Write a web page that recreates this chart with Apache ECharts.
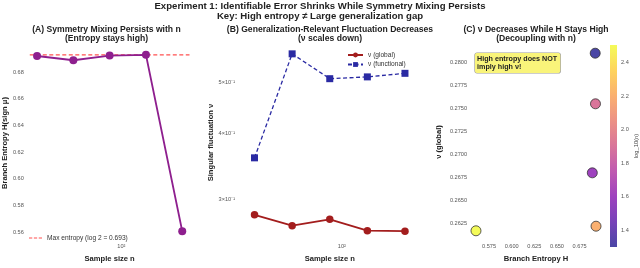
<!DOCTYPE html>
<html><head><meta charset="utf-8">
<script src="https://cdn.jsdelivr.net/npm/echarts@6/dist/echarts.min.js"></script>
<style>html,body{margin:0;padding:0;background:#fff}#c{width:640px;height:268px}</style>
</head><body><div id="c"></div>
<script>
// ---- data ----
const sampleSizes = [20, 40, 80, 160, 320];
const branchEntropy = [0.6922, 0.6890, 0.6925, 0.6931, 0.5606];
const maxEntropy = 0.6931;
const nuGlobal = [0.2810, 0.2680, 0.2755, 0.2622, 0.2617];
const nuFunctional = [0.360, 0.566, 0.508, 0.512, 0.520];
const logN = [1.301, 1.602, 1.903, 2.204, 2.505];
const entropyTicks = [0.56, 0.58, 0.60, 0.62, 0.64, 0.66, 0.68];
const nuTicks = [0.3, 0.4, 0.5];
const nuTickLabels = ['3×10⁻¹', '4×10⁻¹', '5×10⁻¹'];
const hTicks = [0.575, 0.600, 0.625, 0.650, 0.675];
const vTicks = [0.2625, 0.2650, 0.2675, 0.2700, 0.2725, 0.2750, 0.2775, 0.2800];
const cbTicks = [1.4, 1.6, 1.8, 2.0, 2.2, 2.4];
const cbRange = [1.301, 2.505];
const nRange = [17.41, 367.6];
const hRange = [0.5540, 0.6997];
const nuRange = [0.2518, 0.5882];
const vRange = [0.2607, 0.2820];

// ---- styling ----
const FONT = "'Liberation Sans', Arial, sans-serif";
const plasma = ['#0d0887','#4903a0','#7e03a8','#a92395','#cc4778','#e66c5c','#f89540','#fdc527','#f0f921'];
function blend(hex, a) {
  const r = parseInt(hex.slice(1,3),16), g = parseInt(hex.slice(3,5),16), b = parseInt(hex.slice(5,7),16);
  const f = v => Math.round(v * a + 255 * (1 - a));
  return 'rgb(' + f(r) + ',' + f(g) + ',' + f(b) + ')';
}
const plasmaA = plasma.map(c => blend(c, 0.75));

const tickLbl = {fontSize: 5.6, color: '#555', fontFamily: FONT};
const nameStyle = {fontSize: 7.6, fontWeight: 'bold', color: '#222', fontFamily: FONT};
const hidden = {axisLine: {show: false}, axisTick: {show: false}, splitLine: {show: false}};
const dashIcon = 'path://M0,0H4V1.4H0Z M6,0H10V1.4H6Z M12,0H16V1.4H12Z';

const chart = echarts.init(document.getElementById('c'), null, {renderer: 'canvas'});

const zip = (a, b) => a.map((v, i) => [v, b[i]]);

const option = {
  animation: false,
  backgroundColor: '#fff',
  textStyle: {fontFamily: FONT},
  grid: [
    {left: 23.5, width: 166, top: 46, height: 201.5},
    {left: 247, width: 165.5, top: 45, height: 202.5},
    {left: 470, width: 132, top: 44, height: 204},
    {left: 610, width: 11, top: 45, height: 202}
  ],
  xAxis: [
    Object.assign({type: 'log', gridIndex: 0, min: nRange[0], max: nRange[1],
      name: 'Sample size n', nameLocation: 'middle', nameGap: 15, nameTextStyle: nameStyle,
      axisLabel: Object.assign({margin: 3, showMinLabel: false, showMaxLabel: false,
        formatter: v => Math.abs(v - 100) < 1e-6 ? '10²' : ''}, tickLbl)}, hidden),
    Object.assign({type: 'log', gridIndex: 1, min: nRange[0], max: nRange[1],
      name: 'Sample size n', nameLocation: 'middle', nameGap: 15, nameTextStyle: nameStyle,
      axisLabel: Object.assign({margin: 3, showMinLabel: false, showMaxLabel: false,
        formatter: v => Math.abs(v - 100) < 1e-6 ? '10²' : ''}, tickLbl)}, hidden),
    Object.assign({type: 'value', gridIndex: 2, min: hRange[0], max: hRange[1],
      name: 'Branch Entropy H', nameLocation: 'middle', nameGap: 15, nameTextStyle: nameStyle,
      axisLabel: Object.assign({margin: 3, customValues: hTicks, formatter: v => v.toFixed(3)}, tickLbl)}, hidden),
    Object.assign({type: 'category', gridIndex: 3, data: ['cb'], axisLabel: {show: false}}, hidden)
  ],
  yAxis: [
    Object.assign({type: 'value', gridIndex: 0, min: hRange[0], max: hRange[1],
      name: 'Branch Entropy H(sign μ)', nameLocation: 'middle', nameGap: 17, nameRotate: 90, nameTextStyle: nameStyle,
      axisLabel: Object.assign({margin: 6, customValues: entropyTicks, formatter: v => v.toFixed(2)}, tickLbl)}, hidden),
    Object.assign({type: 'log', gridIndex: 1, min: nuRange[0], max: nuRange[1],
      name: 'Singular fluctuation ν', nameLocation: 'middle', nameGap: 32, nameRotate: 90, nameTextStyle: nameStyle,
      axisLabel: Object.assign({margin: 12, customValues: nuTicks,
        formatter: v => { const i = nuTicks.findIndex(t => Math.abs(t - v) < 1e-6); return i >= 0 ? nuTickLabels[i] : ''; }}, tickLbl)}, hidden),
    Object.assign({type: 'value', gridIndex: 2, min: vRange[0], max: vRange[1],
      name: 'ν (global)', nameLocation: 'middle', nameGap: 27, nameRotate: 90, nameTextStyle: nameStyle,
      axisLabel: Object.assign({margin: 3, customValues: vTicks, formatter: v => v.toFixed(4)}, tickLbl)}, hidden),
    Object.assign({type: 'value', gridIndex: 3, position: 'right', min: cbRange[0], max: cbRange[1],
      name: 'log_10(n)', nameLocation: 'middle', nameGap: 16, nameRotate: 90,
      nameTextStyle: {fontSize: 5.8, color: '#444', fontFamily: FONT},
      axisLabel: Object.assign({margin: 4, customValues: cbTicks, formatter: v => v.toFixed(1)}, tickLbl)}, hidden)
  ],
  visualMap: [{
    show: false, type: 'continuous', seriesIndex: 5, dimension: 2,
    min: cbRange[0], max: cbRange[1], inRange: {color: plasmaA}
  }],
  legend: [
    {data: [{name: 'Max entropy (log 2 = 0.693)', icon: dashIcon}], left: 29, top: 234.5, padding: 0,
      itemWidth: 13, itemHeight: 1.4, textStyle: {fontSize: 6.6, color: '#333', fontFamily: FONT}},
    {data: ['ν (global)', 'ν (functional)'], orient: 'vertical', left: 347, top: 51.5, padding: 0,
      itemGap: 2.5, itemWidth: 15, itemHeight: 6, textStyle: {fontSize: 6.6, color: '#333', fontFamily: FONT}}
  ],
  series: [
    {type: 'line', name: 'Max entropy (log 2 = 0.693)', xAxisIndex: 0, yAxisIndex: 0,
      data: [[nRange[0], maxEntropy], [nRange[1], maxEntropy]], symbol: 'none',
      lineStyle: {color: '#ff5050', width: 1.3, type: [4, 2.5]}, itemStyle: {color: '#ff5050'}, z: 1},
    {type: 'line', name: 'H', xAxisIndex: 0, yAxisIndex: 0, data: zip(sampleSizes, branchEntropy),
      symbol: 'circle', symbolSize: 8, lineStyle: {color: '#8e1f8e', width: 1.8},
      itemStyle: {color: '#8e1f8e'}, z: 3},
    {type: 'line', name: 'ν (global)', xAxisIndex: 1, yAxisIndex: 1, data: zip(sampleSizes, nuGlobal),
      symbol: 'circle', symbolSize: 7.5, lineStyle: {color: '#a31d1d', width: 1.8},
      itemStyle: {color: '#a31d1d'}},
    {type: 'line', name: 'ν (functional)', xAxisIndex: 1, yAxisIndex: 1, data: zip(sampleSizes, nuFunctional),
      symbol: 'rect', symbolSize: 7, lineStyle: {color: '#2a2aa3', width: 1.3, type: [4, 2.5]},
      itemStyle: {color: '#2a2aa3'}},
    {type: 'bar', name: 'colorbar', xAxisIndex: 3, yAxisIndex: 3, data: [cbRange[1]], barWidth: '100%',
      silent: true, clip: true,
      itemStyle: {color: new echarts.graphic.LinearGradient(0, 1, 0, 0,
        plasmaA.map((c, i) => ({offset: i / (plasmaA.length - 1), color: c})))}},
    {type: 'scatter', name: 'HV', xAxisIndex: 2, yAxisIndex: 2,
      data: branchEntropy.map((h, i) => [h, nuGlobal[i], logN[i]]),
      symbolSize: 10, itemStyle: {borderColor: '#333', borderWidth: 0.8, opacity: 1}}
  ],
  graphic: [
    {type: 'text', x: 320, y: 6, style: {text: 'Experiment 1: Identifiable Error Shrinks While Symmetry Mixing Persists',
      font: 'bold 9.6px ' + FONT, fill: '#222', align: 'center', verticalAlign: 'middle'}},
    {type: 'text', x: 320, y: 16, style: {text: 'Key: High entropy ≠ Large generalization gap',
      font: 'bold 9.6px ' + FONT, fill: '#222', align: 'center', verticalAlign: 'middle'}},
    {type: 'text', x: 106.5, y: 29.5, style: {text: '(A) Symmetry Mixing Persists with n', font: 'bold 8.6px ' + FONT, fill: '#222', align: 'center', verticalAlign: 'middle'}},
    {type: 'text', x: 106.5, y: 39, style: {text: '(Entropy stays high)', font: 'bold 8.6px ' + FONT, fill: '#222', align: 'center', verticalAlign: 'middle'}},
    {type: 'text', x: 330, y: 29.5, style: {text: '(B) Generalization-Relevant Fluctuation Decreases', font: 'bold 8.6px ' + FONT, fill: '#222', align: 'center', verticalAlign: 'middle'}},
    {type: 'text', x: 330, y: 39, style: {text: '(ν scales down)', font: 'bold 8.6px ' + FONT, fill: '#222', align: 'center', verticalAlign: 'middle'}},
    {type: 'text', x: 536, y: 29.5, style: {text: '(C) ν Decreases While H Stays High', font: 'bold 8.6px ' + FONT, fill: '#222', align: 'center', verticalAlign: 'middle'}},
    {type: 'text', x: 536, y: 39, style: {text: '(Decoupling with n)', font: 'bold 8.6px ' + FONT, fill: '#222', align: 'center', verticalAlign: 'middle'}},
    {type: 'text', x: 475, y: 53, z: 10, style: {text: 'High entropy does NOT\nimply high ν!', font: 'bold 7.2px ' + FONT,
      fill: '#222', lineHeight: 8, backgroundColor: '#f9f47a', borderColor: '#999', borderWidth: 0.6,
      borderRadius: 2, padding: [2, 3, 2, 2]}}
  ]
};
chart.setOption(option);
</script></body></html>
